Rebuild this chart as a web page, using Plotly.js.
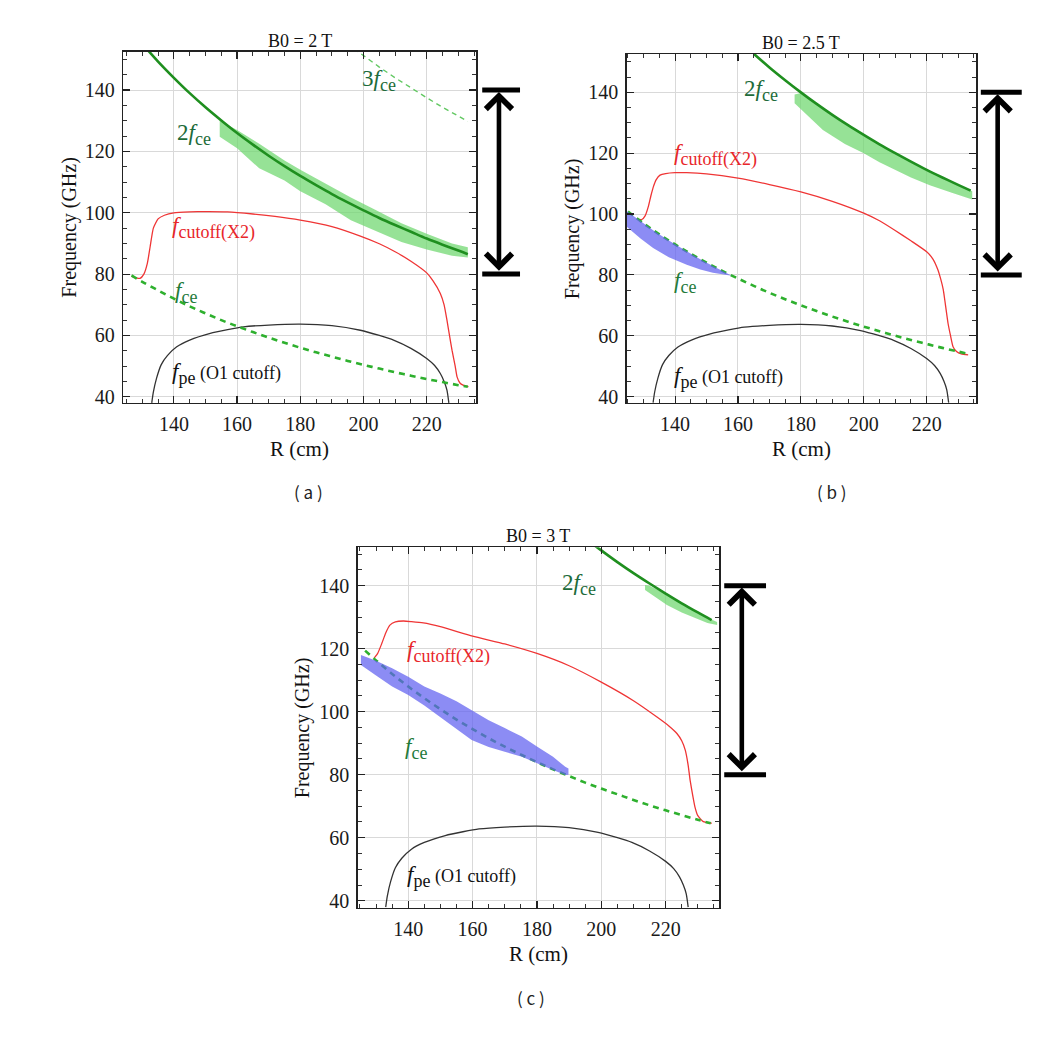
<!DOCTYPE html>
<html>
<head>
<meta charset="utf-8">
<script src="https://cdn.plot.ly/plotly-3.0.1.min.js"></script>
<style>html,body{margin:0;padding:0;background:#fff;}#chart{width:1064px;height:1045px;}</style>
</head>
<body>
<div id="chart"></div>
<script>
// ---------- data ----------
// shared plasma frequency f_pe (O1 cutoff)
const R_FPE = [133,133.5,134.5,136,138,140.9,145,151.5,157,162,170,180,190,199,205,209.5,215,220,222.5,224.3,225.5,226.4,227];
const F_FPE = [38,41.5,46,50.5,53.5,56.3,58.5,60.7,61.9,62.8,63.4,63.7,63.2,61.7,60,58.5,55.8,52.5,50.2,47.6,45,42.2,38];

// ---- panel (a) B0 = 2 T ----
const R_FCE_A = [126.6,130,135,140,145,150,155,160,165,170,175,180,185,190,195,200,205,210,215,220,225,230,233];
const F_FCE_A = [79.6,77.5,74.7,72.0,69.5,67.2,65.0,63.0,61.1,59.3,57.6,56.0,54.5,53.1,51.7,50.4,49.2,48.0,46.9,45.8,44.8,43.8,43.3];
const R_2FCE_A = [131,135,140,145,150,155,160,165,170,175,180,185,190,195,200,205,210,215,220,225,230,233];
const F_2FCE_A = [153.9,149.3,144.0,139.0,134.4,130.1,126.0,122.2,118.6,115.2,112.0,109.0,106.1,103.4,100.8,98.3,96.0,93.8,91.6,89.6,87.7,86.5];
const R_3FCE_A = [197,200,205,210,215,220,225,230,233];
const F_3FCE_A = [153.5,151.2,147.5,144.0,140.7,137.5,134.4,131.5,129.8];
const R_BAND_A = [154.5,160,167,175,180,188,196,204,212,220,228,233];
const UP_BAND_A = [130.0,127.0,122.5,117.0,114.0,109.5,105.0,100.8,96.6,93.2,90.0,88.8];
const LO_BAND_A = [124.8,121.0,114.5,110.5,107.0,102.8,97.6,94.0,90.5,88.0,86.0,85.4];
const R_CUT_A = [126.6,128,129.3,130.5,131.6,132.5,133.5,135,137,140,145,150,157,165,172,180,190,199,205,210,215,220,222,224.3,225.5,226.4,227.2,228,229,229.6,230.5,231.5,233.2];
const F_CUT_A = [79.3,78.8,78.6,80,83.5,89,95,98,99.2,100,100.3,100.4,100.3,99.6,98.8,97.6,95.5,92.4,89.9,87.3,84.2,80.4,77.8,73.7,70,65,60,55.2,50,46.5,44.5,43.8,43.3];

// ---- panel (b) B0 = 2.5 T ----
const R_FCE_B = [125,130,135,140,145,150,155,160,165,170,175,180,185,190,195,200,205,210,215,220,225,230,233];
const F_FCE_B = [100.8,96.9,93.3,90.0,86.9,84.0,81.3,78.8,76.4,74.1,72.0,70.0,68.1,66.3,64.6,63.0,61.5,60.0,58.6,57.3,56.0,54.8,54.1];
const R_2FCE_B = [165,170,175,180,185,190,195,200,205,210,215,220,225,230,234];
const F_2FCE_B = [152.7,148.2,144.0,140.0,136.2,132.6,129.2,126.0,122.9,120.0,117.2,114.5,112.0,109.6,107.7];
const R_GBAND_B = [178,180,187,194,200,205,210,215,221,228,234.5];
const UP_GBAND_B = [139.3,139.8,134.6,129.8,126.0,122.9,120.0,117.2,114.0,110.5,107.5];
const LO_GBAND_B = [136.4,134.5,127.6,123.0,120.0,117.0,114.5,112.0,109.5,107.0,104.8];
const R_BBAND_B = [124.6,129,133,138,143.7,148,152,155,158];
const UP_BBAND_B = [101.0,97.7,94.7,91.3,87.7,85.1,82.9,81.3,79.8];
const LO_BBAND_B = [95.8,92.0,88.8,85.8,83.3,81.8,80.7,80.2,79.7];
const R_CUT_B = [128.5,129.4,130.5,131.5,132.3,133.1,134,135.2,137,140,143.7,150,160,170,180,190,200,205,210,215,220,222,223.6,224.5,225.3,226,226.8,227.6,228.4,229.5,231,233.2];
const F_CUT_B = [98.2,98.2,99.5,102.5,106,109,111.3,112.8,113.3,113.6,113.6,113.2,111.8,109.7,107.3,104.2,100.3,97.8,94.6,91.2,87.6,85.2,81.6,78.5,75.1,70,64.1,60,56.4,54.8,54,53.7];

// ---- panel (c) B0 = 3 T ----
const R_FCE_C = [126.6,130,135,140,145,150,155,160,165,170,175,180,185,190,195,200,205,210,215,220,225,230,234];
const F_FCE_C = [119.4,116.3,112.0,108.0,104.3,100.8,97.5,94.5,91.6,88.9,86.4,84.0,81.7,79.6,77.5,75.6,73.8,72.0,70.3,68.7,67.2,65.7,64.6];
const R_2FCE_C = [198,200,205,210,215,220,225,230,234.3];
const F_2FCE_C = [152.7,151.2,147.5,144.0,140.7,137.5,134.4,131.5,129.1];
const R_GBAND_C = [213.6,215,220.4,225,229.7,233,236];
const UP_GBAND_C = [140.2,140.0,137.2,134.4,131.6,129.8,128.5];
const LO_GBAND_C = [138.6,137.5,133.9,131.5,129.6,128.2,127.5];
const R_BBAND_C = [125.3,130,135,140,145,150,155,159.7,165,170,175.3,180,185,188.8,189.8];
const UP_BBAND_C = [118.0,116.2,113.8,111.1,108.0,105.8,103.3,100.5,97.3,94.8,92.1,89.0,85.7,82.5,82.0];
const LO_BBAND_C = [114.8,111.5,108.0,105.3,102.0,98.5,94.5,91.0,88.8,87.3,85.7,83.8,81.5,79.9,80.0];
const R_CUT_C = [129.4,130.5,131.8,133,134.3,136,138.5,141,144.7,150,160,170,180,190,200,210,217.2,221,223.5,225,226.1,227,227.6,228.4,229.1,230,231.7,234.3];
const F_CUT_C = [117,118.5,121.7,125,127.5,128.5,128.8,128.6,128.2,127.0,124.0,121.5,118.5,114.6,109.4,103.5,98.4,95.5,93.1,90.8,87.8,83,78.3,73.5,69.8,67,65.1,64.6];

// diagnostic frequency range (GHz)
const RANGE_LO = 80, RANGE_HI = 140;
const TITLES = ['B0 = 2 T', 'B0 = 2.5 T', 'B0 = 3 T'];
const CAPTIONS = ['( a )', '( b )', '( c )'];

// ---------- styling ----------
const SERIF = 'Liberation Serif, Times New Roman, serif';
const C_FPE = '#333333', C_CUT = '#ef3535', C_FCE = '#2eb02e', C_2FCE = '#1f8f1f';
const C_GBAND = 'rgba(110,215,110,0.72)', C_BBAND = 'rgba(95,95,240,0.72)';

function poly(R, up, lo) {
  return { x: R.concat(R.slice().reverse()), y: up.concat(lo.slice().reverse()) };
}

const traces = [];
function add(tr, ax) { tr.xaxis = 'x' + ax.n; tr.yaxis = 'y' + ax.n; tr.showlegend = false; tr.hoverinfo = 'skip'; traces.push(tr); }

const panels = [
  { n: '', fce: [R_FCE_A, F_FCE_A], f2: [R_2FCE_A, F_2FCE_A], f3: [R_3FCE_A, F_3FCE_A],
    gband: [R_BAND_A, UP_BAND_A, LO_BAND_A], bband: null, cut: [R_CUT_A, F_CUT_A] },
  { n: '2', fce: [R_FCE_B, F_FCE_B], f2: [R_2FCE_B, F_2FCE_B], f3: null,
    gband: [R_GBAND_B, UP_GBAND_B, LO_GBAND_B], bband: [R_BBAND_B, UP_BBAND_B, LO_BBAND_B], cut: [R_CUT_B, F_CUT_B] },
  { n: '3', fce: [R_FCE_C, F_FCE_C], f2: [R_2FCE_C, F_2FCE_C], f3: null,
    gband: [R_GBAND_C, UP_GBAND_C, LO_GBAND_C], bband: [R_BBAND_C, UP_BBAND_C, LO_BBAND_C], cut: [R_CUT_C, F_CUT_C] }
];

panels.forEach(p => {
  add({ x: R_FPE, y: F_FPE, mode: 'lines', line: { color: C_FPE, width: 1.3, shape: 'spline', smoothing: 0.6 } }, p);
  add({ x: p.cut[0], y: p.cut[1], mode: 'lines', line: { color: C_CUT, width: 1.3, shape: 'spline', smoothing: 0.5 } }, p);
  add({ x: p.fce[0], y: p.fce[1], mode: 'lines', line: { color: C_FCE, width: 2.6, dash: '6px,5px', shape: 'spline' } }, p);
  if (p.bband) { const pg = poly(p.bband[0], p.bband[1], p.bband[2]);
    add({ x: pg.x, y: pg.y, mode: 'lines', fill: 'toself', fillcolor: C_BBAND, line: { width: 0 } }, p); }
  const pg2 = poly(p.gband[0], p.gband[1], p.gband[2]);
  add({ x: pg2.x, y: pg2.y, mode: 'lines', fill: 'toself', fillcolor: C_GBAND, line: { width: 0 } }, p);
  add({ x: p.f2[0], y: p.f2[1], mode: 'lines', line: { color: C_2FCE, width: 2.6, shape: 'spline' } }, p);
  if (p.f3) add({ x: p.f3[0], y: p.f3[1], mode: 'lines', line: { color: '#62c862', width: 1.4, dash: '5px,4px' } }, p);
});

function xax(domain, range) {
  return { domain: domain, range: range, dtick: 20, tick0: 0, ticks: 'inside', ticklen: 7, tickwidth: 1.2, tickcolor: '#222',
    showgrid: true, gridcolor: '#d9d9d9', gridwidth: 1, zeroline: false, showline: true, linecolor: '#222', linewidth: 1.5,
    mirror: 'ticks', tickfont: { family: SERIF, size: 20, color: '#1a1a1a' }, ticklabelstandoff: 3,
    minor: { dtick: 5, ticks: 'inside', ticklen: 4, tickwidth: 1, tickcolor: '#333', showgrid: false }, fixedrange: true };
}

const layout = {
  width: 1064, height: 1045, margin: { l: 0, r: 0, t: 0, b: 0 },
  paper_bgcolor: '#ffffff', plot_bgcolor: '#ffffff', showlegend: false,
  xaxis:  xax([0.1159, 0.4474], [124.0, 235.6]),
  yaxis:  xax([0.6144, 0.9505], [38.0, 152.5]),
  xaxis2: xax([0.5890, 0.9173], [124.6, 235.7]),
  yaxis2: xax([0.6144, 0.9483], [37.9, 152.6]),
  xaxis3: xax([0.3362, 0.6758], [124.3, 236.6]),
  yaxis3: xax([0.1314, 0.4763], [37.8, 152.2]),
  annotations: [], shapes: []
};
['', '2', '3'].forEach(n => { layout['xaxis' + n].anchor = 'y' + n; layout['yaxis' + n].anchor = 'x' + n; });

const A = layout.annotations;
const sub = s => "<sub><span style='font-size:18px'>" + s + "</span></sub>";
const L2F = "2<i>f</i>" + sub('ce');
const L3F = "3<i>f</i>" + sub('ce');
const LCUT = "<i>f</i>" + sub('cutoff(X2)');
const LFCE = "<i>f</i>" + sub('ce');
const LFPE = "<i>f</i>" + sub('pe') + "<span style='font-size:18px'> (O1 cutoff)</span>";

function lab(n, x, y, text, color) {
  A.push({ xref: 'x' + n, yref: 'y' + n, x: x, y: y, text: text, xanchor: 'left', yanchor: 'middle', showarrow: false,
    font: { family: SERIF, size: 23, color: color } });
}
// panel labels
lab('', 140.4, 125.5, L2F, '#1d6b3a'); lab('', 199.0, 143.0, L3F, '#1d6b3a');
lab('', 138.8, 95.0, LCUT, '#e8262a'); lab('', 139.8, 74.0, LFCE, '#237a3a'); lab('', 138.8, 47.5, LFPE, '#111');
lab('2', 161.2, 140.5, L2F, '#1d6b3a'); lab('2', 138.9, 119.5, LCUT, '#e8262a');
lab('2', 138.9, 77.5, LFCE, '#237a3a'); lab('2', 138.9, 46.3, LFPE, '#111');
lab('3', 187.2, 140.3, L2F, '#1d6b3a'); lab('3', 139.0, 119.0, LCUT, '#e8262a');
lab('3', 138.5, 88.3, LFCE, '#237a3a'); lab('3', 139.0, 47.7, LFPE, '#111');

const ARW = [ { n: '', x0: 1.0133, x1: 1.1247, xm: 1.065, yoff: 54 }, { n: '2', x0: 1.0095, x1: 1.1309, xm: 1.062, yoff: 54 },
              { n: '3', x0: 1.0102, x1: 1.13, xm: 1.063, yoff: 55 } ];
ARW.forEach((a, i) => {
  const xr = 'x' + a.n + ' domain', yr = 'y' + a.n;
  [RANGE_HI, RANGE_LO].forEach(v => A.push({ xref: xr, yref: yr, axref: xr, ayref: yr, x: a.x1, y: v, ax: a.x0, ay: v, text: '',
    showarrow: true, arrowhead: 0, arrowwidth: 5, arrowcolor: '#000' }));
  A.push({ xref: xr, yref: yr, axref: xr, ayref: yr, x: a.xm, y: RANGE_HI - 0.6, ax: a.xm, ay: RANGE_LO + 0.6, text: '',
    showarrow: true, arrowside: 'end+start', arrowhead: 4, startarrowhead: 4, arrowsize: 1.1, startarrowsize: 1.1,
    arrowwidth: 4.6, arrowcolor: '#000' });
  // title
  A.push({ xref: 'x' + a.n + ' domain', yref: 'y' + a.n + ' domain', x: 0.5, y: 1, yanchor: 'bottom', xanchor: 'center', yshift: -1,
    text: TITLES[i], showarrow: false, font: { family: SERIF, size: 18, color: '#111' } });
  // axis titles
  A.push({ xref: 'x' + a.n + ' domain', yref: 'y' + a.n + ' domain', x: 0.5, y: 0, yanchor: 'middle', xanchor: 'center', yshift: -46,
    text: 'R (cm)', showarrow: false, font: { family: SERIF, size: 21, color: '#111' } });
  A.push({ xref: 'x' + a.n + ' domain', yref: 'y' + a.n + ' domain', x: 0, y: 0.5, yanchor: 'middle', xanchor: 'center', xshift: -a.yoff,
    textangle: -90, text: 'Frequency (GHz)', showarrow: false, font: { family: SERIF, size: 20, color: '#111' } });
});
// captions
[[0.2904, 0.5292], [0.782, 0.5292], [0.499, 0.045]].forEach((c, i) => A.push({ xref: 'paper', yref: 'paper', x: c[0], y: c[1],
  xanchor: 'center', yanchor: 'middle', text: CAPTIONS[i], showarrow: false,
  font: { family: 'Noto Sans CJK KR, Noto Sans', size: 17, color: '#222' } }));

Plotly.newPlot('chart', traces, layout, { staticPlot: true, displayModeBar: false });
</script>
</body>
</html>
